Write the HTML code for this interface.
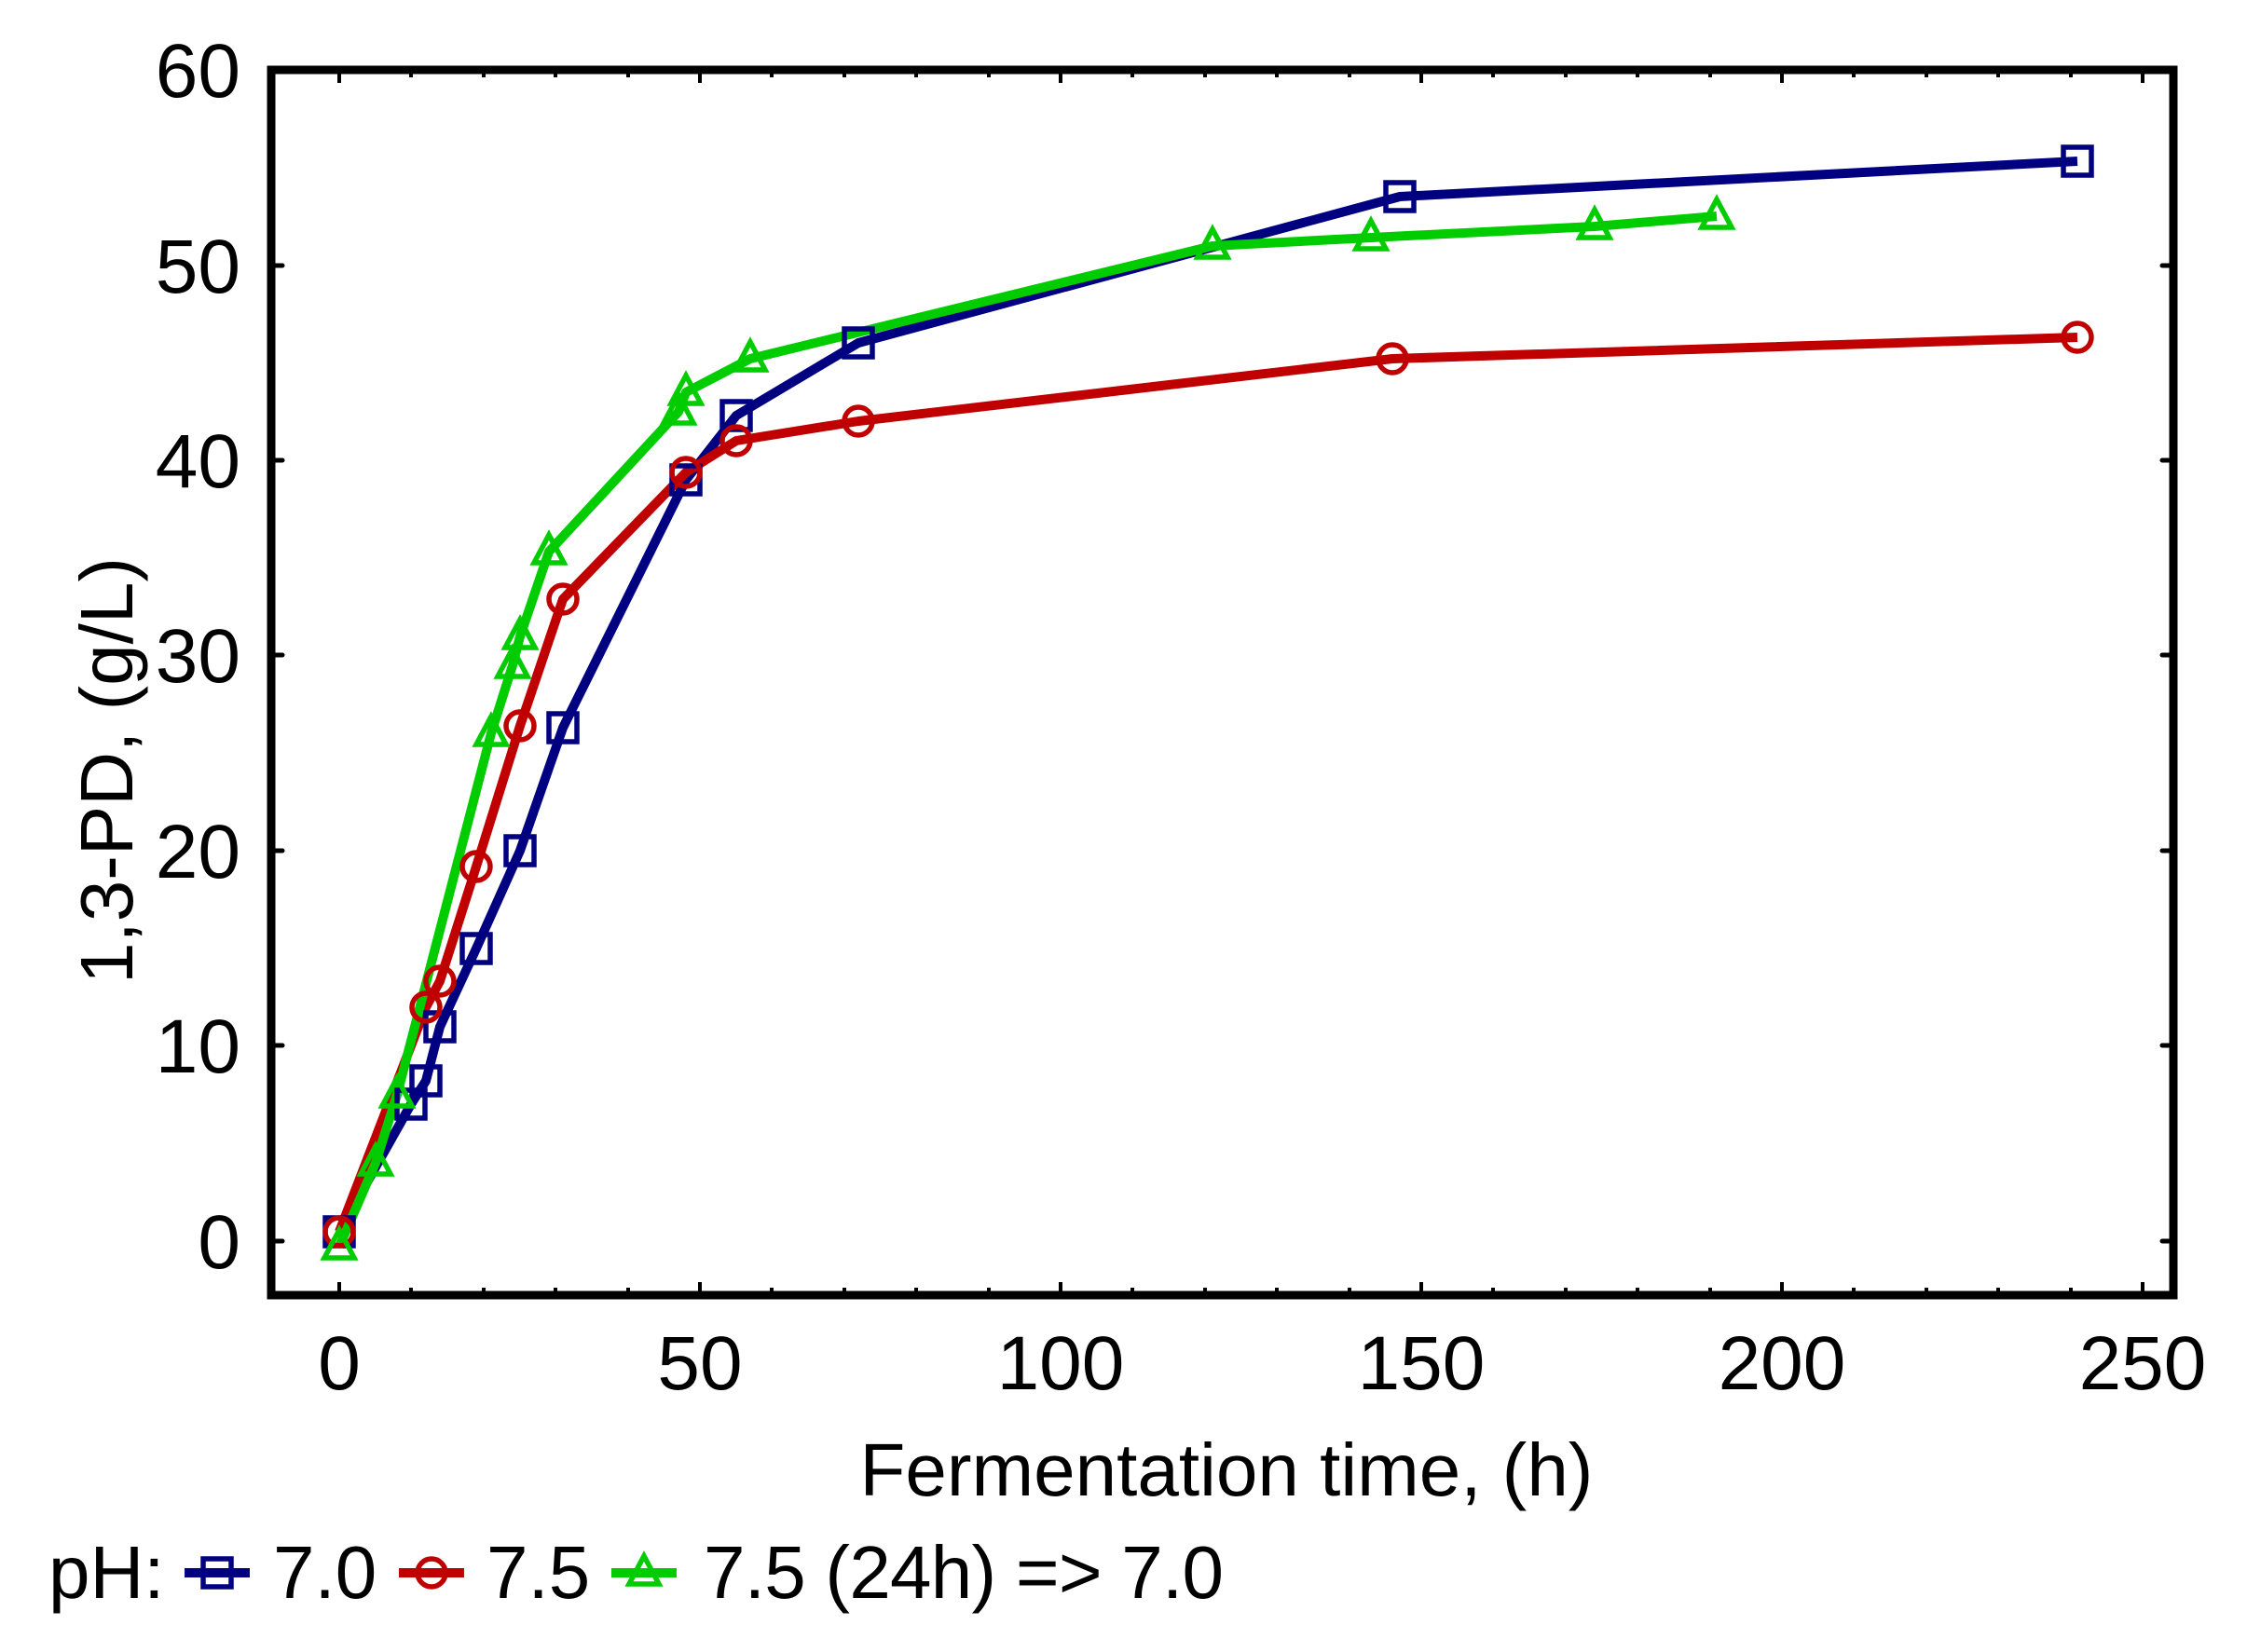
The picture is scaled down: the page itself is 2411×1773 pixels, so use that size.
<!DOCTYPE html>
<html><head><meta charset="utf-8"><style>html,body{margin:0;padding:0;background:#fff}svg{display:block}</style></head>
<body>
<svg xmlns="http://www.w3.org/2000/svg" width="2411" height="1773" viewBox="0 0 2411 1773">
<defs>
<g id="sq"><rect x="-15" y="-15" width="30" height="30" fill="none" stroke="#000080" stroke-width="5.5"/></g>
<g id="ci"><circle r="15" fill="none" stroke="#c00000" stroke-width="5.5"/></g>
<g id="tr"><polygon points="0,-18 16,12 -16,12" fill="none" stroke="#00cc00" stroke-width="5.5"/></g>
</defs>
<g font-family="Liberation Sans, sans-serif" fill="#000">
<g stroke="#000" stroke-width="5" stroke-linecap="round">
<line x1="291" y1="1332" x2="303" y2="1332"/><line x1="291" y1="1122" x2="303" y2="1122"/><line x1="291" y1="913" x2="303" y2="913"/><line x1="291" y1="703" x2="303" y2="703"/><line x1="291" y1="494" x2="303" y2="494"/><line x1="291" y1="285" x2="303" y2="285"/>
<line x1="2332" y1="1332" x2="2320" y2="1332"/><line x1="2332" y1="1122" x2="2320" y2="1122"/><line x1="2332" y1="913" x2="2320" y2="913"/><line x1="2332" y1="703" x2="2320" y2="703"/><line x1="2332" y1="494" x2="2320" y2="494"/><line x1="2332" y1="285" x2="2320" y2="285"/>
</g>
<g stroke="#000" stroke-width="4">
<path d="M364 1390v-14M441 1390v-8M519 1390v-8M596 1390v-8M674 1390v-8M751 1390v-14M828 1390v-8M906 1390v-8M983 1390v-8M1061 1390v-8M1138 1390v-14M1215 1390v-8M1293 1390v-8M1370 1390v-8M1448 1390v-8M1525 1390v-14M1602 1390v-8M1680 1390v-8M1757 1390v-8M1835 1390v-8M1912 1390v-14M1989 1390v-8M2067 1390v-8M2144 1390v-8M2222 1390v-8M2299 1390v-14"/>
<path d="M364 75v14M441 75v8M519 75v8M596 75v8M674 75v8M751 75v14M828 75v8M906 75v8M983 75v8M1061 75v8M1138 75v14M1215 75v8M1293 75v8M1370 75v8M1448 75v8M1525 75v14M1602 75v8M1680 75v8M1757 75v8M1835 75v8M1912 75v14M1989 75v8M2067 75v8M2144 75v8M2222 75v8M2299 75v14"/>
</g>
<rect x="291" y="75" width="2041" height="1315" fill="none" stroke="#000" stroke-width="9"/>
<g font-size="82" text-anchor="end">
<text x="258" y="1361">0</text><text x="258" y="1151">10</text><text x="258" y="942">20</text><text x="258" y="732">30</text><text x="258" y="523">40</text><text x="258" y="314">50</text><text x="258" y="104">60</text>
</g>
<g font-size="82" text-anchor="middle">
<text x="364" y="1491">0</text><text x="751" y="1491">50</text><text x="1138" y="1491">100</text><text x="1525" y="1491">150</text><text x="1912" y="1491">200</text><text x="2299" y="1491">250</text>
</g>
<text x="1316" y="1605" font-size="80" text-anchor="middle">Fermentation time, (h)</text>
<text transform="translate(142,827) rotate(-90)" font-size="80" text-anchor="middle">1,3-PD, (g/L)</text>
<polyline fill="none" stroke="#000080" stroke-width="10" stroke-linejoin="round" points="364,1322 441,1185 457,1160 472,1102 511,1018 558,913 604,781 736,515 790,446 921,368 1502,211 2229,173"/>
<polyline fill="none" stroke="#c00000" stroke-width="10" stroke-linejoin="round" points="364,1322 457,1081 472,1053 511,930 558,779 604,643 736,507 790,473 921,452 1494,385 2229,362"/>
<polyline fill="none" stroke="#00cc00" stroke-width="10" stroke-linejoin="round" points="364,1338 403,1248 426,1175 527,787 550,714 558,683 589,592 728,442 736,421 805,385 1301,264 1471,255 1711,243 1842,232"/>
<g>
<use href="#sq" x="364" y="1322"/><use href="#sq" x="441" y="1185"/><use href="#sq" x="457" y="1160"/><use href="#sq" x="472" y="1102"/><use href="#sq" x="511" y="1018"/><use href="#sq" x="558" y="913"/><use href="#sq" x="604" y="781"/><use href="#sq" x="736" y="515"/><use href="#sq" x="790" y="446"/><use href="#sq" x="921" y="368"/><use href="#sq" x="1502" y="211"/><use href="#sq" x="2229" y="173"/>
<use href="#ci" x="364" y="1322"/><use href="#ci" x="457" y="1081"/><use href="#ci" x="472" y="1053"/><use href="#ci" x="511" y="930"/><use href="#ci" x="558" y="779"/><use href="#ci" x="604" y="643"/><use href="#ci" x="736" y="507"/><use href="#ci" x="790" y="473"/><use href="#ci" x="921" y="452"/><use href="#ci" x="1494" y="385"/><use href="#ci" x="2229" y="362"/>
<use href="#tr" x="364" y="1338"/><use href="#tr" x="403" y="1248"/><use href="#tr" x="426" y="1175"/><use href="#tr" x="527" y="787"/><use href="#tr" x="550" y="714"/><use href="#tr" x="558" y="683"/><use href="#tr" x="589" y="592"/><use href="#tr" x="728" y="442"/><use href="#tr" x="736" y="421"/><use href="#tr" x="805" y="385"/><use href="#tr" x="1301" y="264"/><use href="#tr" x="1471" y="255"/><use href="#tr" x="1711" y="243"/><use href="#tr" x="1842" y="232"/>
</g>
<g font-size="80">
<text x="52" y="1715">pH:</text>
<line x1="198" y1="1688" x2="268" y2="1688" stroke="#000080" stroke-width="10"/><use href="#sq" x="233" y="1688"/>
<text x="293" y="1715">7.0</text>
<line x1="428" y1="1688" x2="498" y2="1688" stroke="#c00000" stroke-width="10"/><use href="#ci" x="463" y="1688"/>
<text x="522" y="1715">7.5</text>
<line x1="656" y1="1688" x2="726" y2="1688" stroke="#00cc00" stroke-width="10"/><use href="#tr" x="691" y="1688"/>
<text x="755" y="1715" textLength="558">7.5 (24h) =&gt; 7.0</text>
</g>
</g>
</svg>
</body></html>
